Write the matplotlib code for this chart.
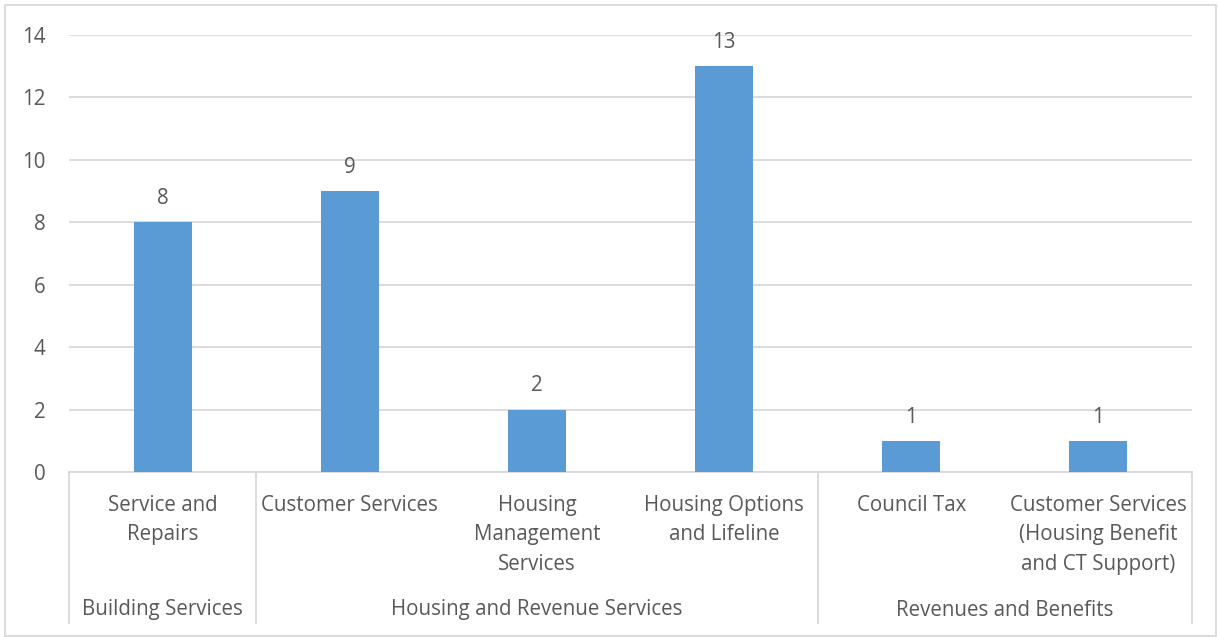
import matplotlib.pyplot as plt
from matplotlib.patches import Rectangle

# data
groups = ["Building Services", "Housing and Revenue Services", "Revenues and Benefits"]
categories = ["Service and\nRepairs", "Customer Services", "Housing\nManagement\nServices",
              "Housing Options\nand Lifeline", "Council Tax",
              "Customer Services\n(Housing Benefit\nand CT Support)"]
group_of = [0, 1, 1, 1, 2, 2]
values = [8, 9, 2, 13, 1, 1]

plt.rcParams['font.family'] = ['Open Sans', 'DejaVu Sans']
text_color = '#595959'
grid_color = '#d9d9d9'
fs = 14.8

W, H = 1218, 637
fig = plt.figure(figsize=(W / 100, H / 100), dpi=100)
left, right, top, bottom = 69, 1192, 35, 472
ax = fig.add_axes([left / W, 1 - bottom / H, (right - left) / W, (bottom - top) / H])

x = list(range(len(values)))
bars = ax.bar(x, values, width=0.31, color='#5b9bd5', zorder=3)
ax.bar_label(bars, padding=9.5, fontsize=fs, color=text_color)

ax.set_xlim(-0.5, len(values) - 0.5)
ax.set_ylim(0, 14)
ax.set_yticks(range(0, 15, 2))
ax.grid(axis='y', color=grid_color, linewidth=1.3, zorder=0)
for s in ['top', 'right', 'left']:
    ax.spines[s].set_visible(False)
ax.spines['bottom'].set_color(grid_color)
ax.spines['bottom'].set_linewidth(1.3)
ax.tick_params(axis='y', length=0, pad=17, labelsize=fs, labelcolor=text_color)
ax.set_xticks([])

ax_h = bottom - top
trans = ax.get_xaxis_transform()

# level 1 labels
for i, lab in enumerate(categories):
    ax.text(i, -23 / ax_h, lab, transform=trans, ha='center', va='top',
            fontsize=fs, color=text_color, linespacing=1.53, clip_on=False)

# group boundaries and labels
bounds = [-0.5]
for i in range(1, len(group_of)):
    if group_of[i] != group_of[i - 1]:
        bounds.append(i - 0.5)
bounds.append(len(group_of) - 0.5)
for b in bounds:
    ax.plot([b, b], [0, -151 / ax_h], transform=trans, color=grid_color,
            linewidth=1.3, clip_on=False)
for g in range(len(groups)):
    ax.text((bounds[g] + bounds[g + 1]) / 2, -138 / ax_h, groups[g], transform=trans,
            ha='center', va='center', fontsize=fs, color=text_color, clip_on=False)

# chart border
fig.patches.append(Rectangle((5 / W, 1 / H), 1211 / W, 631 / H, transform=fig.transFigure,
                             fill=False, edgecolor=grid_color, linewidth=1.3))

fig.savefig('out.png', dpi=100)
